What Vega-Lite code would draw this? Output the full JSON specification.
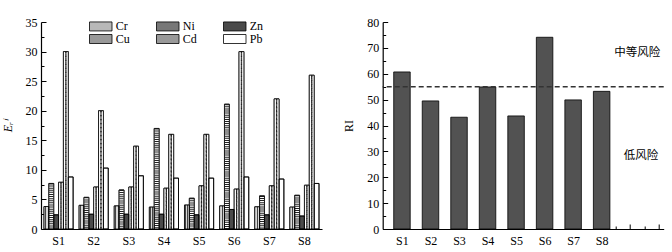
{
  "$schema": "https://vega.github.io/schema/vega-lite/v6.json",
  "padding": {"left": 1, "top": 16, "right": 5, "bottom": 5},
  "bounds": "flush",
  "spacing": 60.7,
  "config": {
    "font": "Liberation Serif",
    "view": {"stroke": null},
    "axis": {"labelFont": "Liberation Serif", "labelFontSize": 12, "labelColor": "#000", "domainColor": "#000", "tickColor": "#000", "grid": false, "titleFont": "Liberation Serif", "titleFontWeight": "normal", "titleFontSize": 12, "titleColor": "#000", "domainWidth": 1.2, "labelOverlap": false}
  },
  "hconcat": [
    {
      "width": 281,
      "height": 207,
      "data": {"values": [
        {"site": "S1", "metal": "Cr", "value": 3.8}, {"site": "S1", "metal": "Ni", "value": 7.7}, {"site": "S1", "metal": "Zn", "value": 2.4}, {"site": "S1", "metal": "Cu", "value": 7.9}, {"site": "S1", "metal": "Cd", "value": 30.0}, {"site": "S1", "metal": "Pb", "value": 8.8},
        {"site": "S2", "metal": "Cr", "value": 4.0}, {"site": "S2", "metal": "Ni", "value": 5.35}, {"site": "S2", "metal": "Zn", "value": 2.5}, {"site": "S2", "metal": "Cu", "value": 7.1}, {"site": "S2", "metal": "Cd", "value": 20.0}, {"site": "S2", "metal": "Pb", "value": 10.3},
        {"site": "S3", "metal": "Cr", "value": 3.9}, {"site": "S3", "metal": "Ni", "value": 6.6}, {"site": "S3", "metal": "Zn", "value": 2.5}, {"site": "S3", "metal": "Cu", "value": 7.1}, {"site": "S3", "metal": "Cd", "value": 14.0}, {"site": "S3", "metal": "Pb", "value": 9.0},
        {"site": "S4", "metal": "Cr", "value": 3.7}, {"site": "S4", "metal": "Ni", "value": 17.0}, {"site": "S4", "metal": "Zn", "value": 2.5}, {"site": "S4", "metal": "Cu", "value": 6.9}, {"site": "S4", "metal": "Cd", "value": 16.0}, {"site": "S4", "metal": "Pb", "value": 8.6},
        {"site": "S5", "metal": "Cr", "value": 4.05}, {"site": "S5", "metal": "Ni", "value": 5.2}, {"site": "S5", "metal": "Zn", "value": 2.4}, {"site": "S5", "metal": "Cu", "value": 7.3}, {"site": "S5", "metal": "Cd", "value": 16.0}, {"site": "S5", "metal": "Pb", "value": 8.6},
        {"site": "S6", "metal": "Cr", "value": 3.9}, {"site": "S6", "metal": "Ni", "value": 21.1}, {"site": "S6", "metal": "Zn", "value": 3.3}, {"site": "S6", "metal": "Cu", "value": 6.75}, {"site": "S6", "metal": "Cd", "value": 30.0}, {"site": "S6", "metal": "Pb", "value": 8.8},
        {"site": "S7", "metal": "Cr", "value": 3.75}, {"site": "S7", "metal": "Ni", "value": 5.6}, {"site": "S7", "metal": "Zn", "value": 2.4}, {"site": "S7", "metal": "Cu", "value": 7.3}, {"site": "S7", "metal": "Cd", "value": 22.0}, {"site": "S7", "metal": "Pb", "value": 8.45},
        {"site": "S8", "metal": "Cr", "value": 3.7}, {"site": "S8", "metal": "Ni", "value": 5.7}, {"site": "S8", "metal": "Zn", "value": 2.2}, {"site": "S8", "metal": "Cu", "value": 7.4}, {"site": "S8", "metal": "Cd", "value": 26.0}, {"site": "S8", "metal": "Pb", "value": 7.7}
      ]},
      "encoding": {
        "x": {"field": "site", "type": "nominal", "scale": {"paddingInner": 0.17, "paddingOuter": 0.085}, "axis": {"title": null, "labelAngle": 0, "ticks": false, "labelPadding": 6}},
        "xOffset": {"field": "metal", "type": "nominal", "scale": {"domain": ["Cr", "Ni", "Zn", "Cu", "Cd", "Pb"]}},
        "y": {"field": "value", "type": "quantitative", "scale": {"domain": [0, 35], "nice": false},
          "axis": {"title": "Eᵣⁱ", "titleFontStyle": "italic", "titlePadding": 11, "tickCount": 100,
            "values": [0, 2.5, 5, 7.5, 10, 12.5, 15, 17.5, 20, 22.5, 25, 27.5, 30, 32.5, 35],
            "labelExpr": "datum.value % 5 === 0 ? datum.value : ''",
            "tickSize": {"condition": {"test": "datum.value % 5 === 0", "value": -5}, "value": -3},
            "labelPadding": 9}}
      },
      "layer": [
        {
          "mark": {"type": "bar", "stroke": "#000", "strokeWidth": 0.8},
          "encoding": {
            "fill": {"field": "metal", "type": "nominal",
              "scale": {"domain": ["Cr", "Ni", "Zn", "Cu", "Cd", "Pb"], "range": ["#b8b8b8", "#777777", "#4a4a4a", "#999999", "#999999", "#ffffff"]},
              "legend": {"title": null, "orient": "none", "legendX": 53.75, "legendY": -2, "direction": "horizontal", "columns": 3, "padding": 0,
                "symbolType": "M-2.5,-1H2.5V1H-2.5Z", "symbolSize": 81, "symbolStrokeColor": "#000", "symbolStrokeWidth": 0.8, "symbolOpacity": 1,
                "labelFont": "Liberation Serif", "labelFontSize": 12, "labelColor": "#000", "labelOffset": 9, "columnPadding": 24, "rowPadding": -2,
                "encode": {"symbols": {"update": {
                  "stroke": {"value": "#000"},
                  "strokeWidth": {"value": 0.8},
                  "fill": [
                  {"test": "datum.value === 'Cr'", "value": {"gradient": "linear", "x1": 0, "y1": 0, "x2": 1, "y2": 0, "stops": [
                    {"offset": 0, "color": "#fff"}, {"offset": 0.09, "color": "#fff"}, {"offset": 0.09, "color": "#333"}, {"offset": 0.15, "color": "#333"},
                    {"offset": 0.15, "color": "#fff"}, {"offset": 0.24, "color": "#fff"}, {"offset": 0.24, "color": "#333"}, {"offset": 0.3, "color": "#333"},
                    {"offset": 0.3, "color": "#fff"}, {"offset": 0.39, "color": "#fff"}, {"offset": 0.39, "color": "#333"}, {"offset": 0.45, "color": "#333"},
                    {"offset": 0.45, "color": "#fff"}, {"offset": 0.54, "color": "#fff"}, {"offset": 0.54, "color": "#333"}, {"offset": 0.6, "color": "#333"},
                    {"offset": 0.6, "color": "#fff"}, {"offset": 0.69, "color": "#fff"}, {"offset": 0.69, "color": "#333"}, {"offset": 0.75, "color": "#333"},
                    {"offset": 0.75, "color": "#fff"}, {"offset": 0.84, "color": "#fff"}, {"offset": 0.84, "color": "#333"}, {"offset": 0.9, "color": "#333"},
                    {"offset": 0.9, "color": "#fff"}, {"offset": 1, "color": "#fff"}]}},
                  {"test": "datum.value === 'Ni'", "value": {"gradient": "linear", "x1": 0, "y1": 0, "x2": 0, "y2": 1, "stops": [
                    {"offset": 0, "color": "#fff"}, {"offset": 0.14, "color": "#fff"}, {"offset": 0.14, "color": "#333"}, {"offset": 0.28, "color": "#333"},
                    {"offset": 0.28, "color": "#fff"}, {"offset": 0.43, "color": "#fff"}, {"offset": 0.43, "color": "#333"}, {"offset": 0.57, "color": "#333"},
                    {"offset": 0.57, "color": "#fff"}, {"offset": 0.71, "color": "#fff"}, {"offset": 0.71, "color": "#333"}, {"offset": 0.85, "color": "#333"},
                    {"offset": 0.85, "color": "#fff"}, {"offset": 1, "color": "#fff"}]}},
                  {"test": "datum.value === 'Cu'", "value": {"gradient": "linear", "x1": 0, "y1": 0.4, "x2": 1, "y2": 0, "stops": [
                    {"offset": 0, "color": "#333"}, {"offset": 0.05, "color": "#333"}, {"offset": 0.05, "color": "#fff"}, {"offset": 0.14, "color": "#fff"},
                    {"offset": 0.14, "color": "#333"}, {"offset": 0.2, "color": "#333"}, {"offset": 0.2, "color": "#fff"}, {"offset": 0.29, "color": "#fff"},
                    {"offset": 0.29, "color": "#333"}, {"offset": 0.35, "color": "#333"}, {"offset": 0.35, "color": "#fff"}, {"offset": 0.44, "color": "#fff"},
                    {"offset": 0.44, "color": "#333"}, {"offset": 0.5, "color": "#333"}, {"offset": 0.5, "color": "#fff"}, {"offset": 0.59, "color": "#fff"},
                    {"offset": 0.59, "color": "#333"}, {"offset": 0.65, "color": "#333"}, {"offset": 0.65, "color": "#fff"}, {"offset": 0.74, "color": "#fff"},
                    {"offset": 0.74, "color": "#333"}, {"offset": 0.8, "color": "#333"}, {"offset": 0.8, "color": "#fff"}, {"offset": 0.89, "color": "#fff"},
                    {"offset": 0.89, "color": "#333"}, {"offset": 0.95, "color": "#333"}, {"offset": 0.95, "color": "#fff"}, {"offset": 1, "color": "#fff"}]}},
                  {"test": "datum.value === 'Cd'", "value": {"gradient": "linear", "x1": 0, "y1": 0, "x2": 1, "y2": 0.4, "stops": [
                    {"offset": 0, "color": "#fff"}, {"offset": 0.09, "color": "#fff"}, {"offset": 0.09, "color": "#333"}, {"offset": 0.15, "color": "#333"},
                    {"offset": 0.15, "color": "#fff"}, {"offset": 0.24, "color": "#fff"}, {"offset": 0.24, "color": "#333"}, {"offset": 0.3, "color": "#333"},
                    {"offset": 0.3, "color": "#fff"}, {"offset": 0.39, "color": "#fff"}, {"offset": 0.39, "color": "#333"}, {"offset": 0.45, "color": "#333"},
                    {"offset": 0.45, "color": "#fff"}, {"offset": 0.54, "color": "#fff"}, {"offset": 0.54, "color": "#333"}, {"offset": 0.6, "color": "#333"},
                    {"offset": 0.6, "color": "#fff"}, {"offset": 0.69, "color": "#fff"}, {"offset": 0.69, "color": "#333"}, {"offset": 0.75, "color": "#333"},
                    {"offset": 0.75, "color": "#fff"}, {"offset": 0.84, "color": "#fff"}, {"offset": 0.84, "color": "#333"}, {"offset": 0.9, "color": "#333"},
                    {"offset": 0.9, "color": "#fff"}, {"offset": 1, "color": "#fff"}]}},
                  {"test": "datum.value === 'Zn'", "value": "#4a4a4a"},
                  {"value": "#ffffff"}
                ]}}}}}
          }
        },
        {
          "transform": [{"filter": {"field": "metal", "oneOf": ["Ni", "Cu", "Cd"]}}],
          "mark": {"type": "bar", "fill": "#fff"}
        },
        {
          "transform": [{"filter": {"field": "metal", "equal": "Cr"}}],
          "mark": {"type": "bar", "fill": {"gradient": "linear", "x1": 0, "y1": 0, "x2": 1, "y2": 0, "stops": [
                    {"offset": 0, "color": "#d8d8d8"}, {"offset": 0.2, "color": "#d8d8d8"}, {"offset": 0.2, "color": "#444"}, {"offset": 0.33, "color": "#444"},
                    {"offset": 0.33, "color": "#d8d8d8"}, {"offset": 0.53, "color": "#d8d8d8"}, {"offset": 0.53, "color": "#444"}, {"offset": 0.66, "color": "#444"},
                    {"offset": 0.66, "color": "#d8d8d8"}, {"offset": 0.86, "color": "#d8d8d8"}, {"offset": 0.86, "color": "#444"}, {"offset": 1, "color": "#444"}]}}
        },
        {
          "transform": [{"filter": {"field": "metal", "equal": "Ni"}}],
          "mark": {"type": "rule", "color": "#222", "strokeWidth": 4.4, "strokeDash": [1, 1.1]},
          "encoding": {"y2": {"datum": 0}}
        },
        {"transform": [{"filter": {"field": "metal", "equal": "Cd"}}], "mark": {"type": "rule", "color": "#222", "strokeWidth": 1.25, "strokeDash": [1.3, 2.7], "strokeDashOffset": 0, "xOffset": -1.8}, "encoding": {"y2": {"datum": 0}}},
        {"transform": [{"filter": {"field": "metal", "equal": "Cd"}}], "mark": {"type": "rule", "color": "#222", "strokeWidth": 1.25, "strokeDash": [1.3, 2.7], "strokeDashOffset": 1.2, "xOffset": -0.6}, "encoding": {"y2": {"datum": 0}}},
        {"transform": [{"filter": {"field": "metal", "equal": "Cd"}}], "mark": {"type": "rule", "color": "#222", "strokeWidth": 1.25, "strokeDash": [1.3, 2.7], "strokeDashOffset": 2.4, "xOffset": 0.6}, "encoding": {"y2": {"datum": 0}}},
        {"transform": [{"filter": {"field": "metal", "equal": "Cd"}}], "mark": {"type": "rule", "color": "#222", "strokeWidth": 1.25, "strokeDash": [1.3, 2.7], "strokeDashOffset": 3.6, "xOffset": 1.8}, "encoding": {"y2": {"datum": 0}}},
        {"transform": [{"filter": {"field": "metal", "equal": "Cu"}}], "mark": {"type": "rule", "color": "#222", "strokeWidth": 1.25, "strokeDash": [1.3, 2.7], "strokeDashOffset": 3.6, "xOffset": -1.8}, "encoding": {"y2": {"datum": 0}}},
        {"transform": [{"filter": {"field": "metal", "equal": "Cu"}}], "mark": {"type": "rule", "color": "#222", "strokeWidth": 1.25, "strokeDash": [1.3, 2.7], "strokeDashOffset": 2.4, "xOffset": -0.6}, "encoding": {"y2": {"datum": 0}}},
        {"transform": [{"filter": {"field": "metal", "equal": "Cu"}}], "mark": {"type": "rule", "color": "#222", "strokeWidth": 1.25, "strokeDash": [1.3, 2.7], "strokeDashOffset": 1.2, "xOffset": 0.6}, "encoding": {"y2": {"datum": 0}}},
        {"transform": [{"filter": {"field": "metal", "equal": "Cu"}}], "mark": {"type": "rule", "color": "#222", "strokeWidth": 1.25, "strokeDash": [1.3, 2.7], "strokeDashOffset": 0, "xOffset": 1.8}, "encoding": {"y2": {"datum": 0}}},
        {
          "mark": {"type": "bar", "fill": "transparent", "stroke": "#000", "strokeWidth": 0.8}
        }
      ]
    },
    {
      "width": 281,
      "height": 207,
      "layer": [
        {
          "data": {"values": [
            {"site": "S1", "no": 1, "RI": 60.7}, {"site": "S2", "no": 2, "RI": 49.5}, {"site": "S3", "no": 3, "RI": 43.2}, {"site": "S4", "no": 4, "RI": 54.9},
            {"site": "S5", "no": 5, "RI": 43.7}, {"site": "S6", "no": 6, "RI": 74.1}, {"site": "S7", "no": 7, "RI": 49.9}, {"site": "S8", "no": 8, "RI": 53.2}
          ]},
          "mark": {"type": "bar", "fill": "#525252", "stroke": "#000", "strokeWidth": 0.8, "size": 16.5},
          "encoding": {
            "x": {"field": "no", "type": "quantitative", "scale": {"domain": [0.5, 10], "nice": false, "zero": false},
              "axis": {"title": null, "tickCount": 100, "values": [1, 2, 3, 4, 5, 6, 7, 8, 8.5, 9, 9.5, 10],
                "labelExpr": "datum.value <= 8 && datum.value % 1 === 0 ? 'S' + datum.value : ''",
                "tickSize": {"condition": {"test": "datum.value % 1 === 0", "value": -5}, "value": -3},
                "labelPadding": 11, "labelFlush": false, "labelOverlap": false, "labelBound": false}},
            "y": {"field": "RI", "type": "quantitative", "scale": {"domain": [0, 80], "nice": false},
              "axis": {"title": "RI", "titlePadding": 11, "tickCount": 100,
                "values": [0, 5, 10, 15, 20, 25, 30, 35, 40, 45, 50, 55, 60, 65, 70, 75, 80],
                "labelExpr": "datum.value % 10 === 0 ? datum.value : ''",
                "tickSize": {"condition": {"test": "datum.value % 10 === 0", "value": -5}, "value": -3},
                "labelPadding": 9, "labelOverlap": false}}
          }
        },
        {
          "data": {"values": [{"threshold": 55}]},
          "mark": {"type": "rule", "color": "#333", "strokeWidth": 1.5, "strokeDash": [5, 3]},
          "encoding": {"y": {"field": "threshold", "type": "quantitative"}}
        },
        {
          "data": {"values": [{"label": "中等风险", "no": 9.25, "RI": 68}, {"label": "低风险", "no": 9.38, "RI": 28.2}]},
          "mark": {"type": "text", "font": "Noto Sans CJK SC", "fontSize": 11.5, "color": "#000"},
          "encoding": {
            "x": {"field": "no", "type": "quantitative"},
            "y": {"field": "RI", "type": "quantitative"},
            "text": {"field": "label"}
          }
        }
      ]
    }
  ]
}
